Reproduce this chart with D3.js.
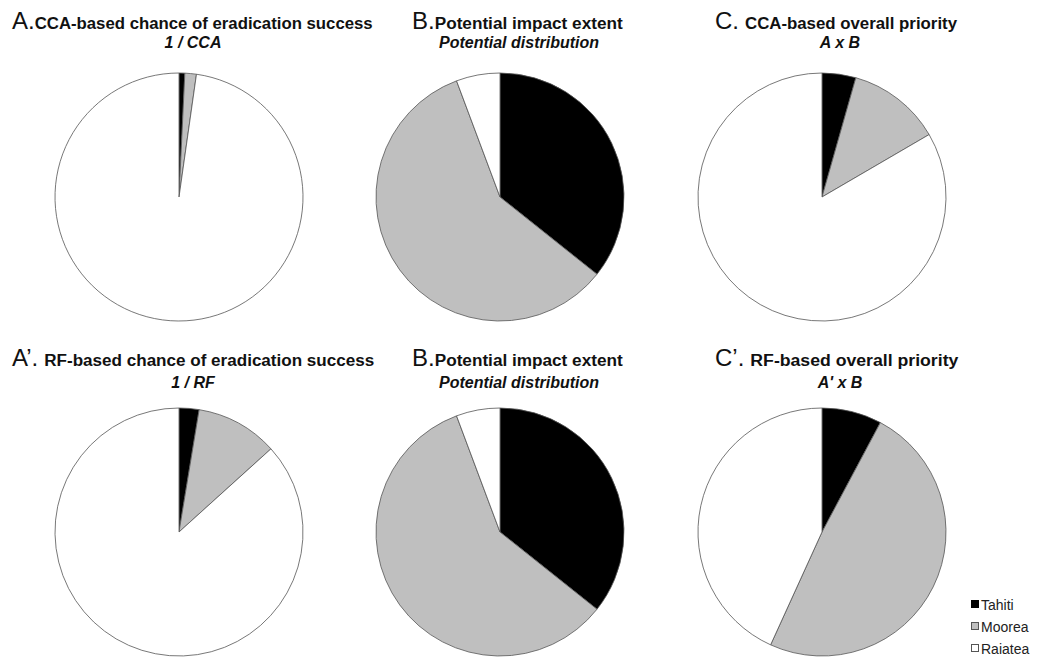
<!DOCTYPE html>
<html lang="en">
<head>
  <meta charset="UTF-8">
  <title>Eradication priority pies</title>
  <script src="https://d3js.org/d3.v7.min.js"></script>
  <style>
    body { margin: 0; background: #fff; }
    svg { font-family: "Liberation Sans", Arial, sans-serif; }
  </style>
</head>
<body>
  <svg width="1038" height="659"></svg>

  <script>
    // islands and values (percent share of each pie)
    const islands = ["Tahiti", "Moorea", "Raiatea"];
    const letters = ["A.", "B.", "C.", "A\u2019.", "B.", "C\u2019."];
    const titles = [
      "CCA-based chance of eradication success",
      "Potential impact extent",
      "CCA-based overall priority",
      "RF-based chance of eradication success",
      "Potential impact extent",
      "RF-based overall priority"
    ];
    const subtitles = ["1 / CCA", "Potential distribution", "A x B", "1 / RF", "Potential distribution", "A' x B"];
    const tahiti  = [0.75, 35.7, 4.4, 2.6, 35.7, 7.8];
    const moorea  = [1.5, 58.6, 12.2, 10.7, 58.6, 49.0];
    const raiatea = [97.75, 5.7, 83.4, 86.7, 5.7, 43.2];

    const svg = d3.select("svg");

    const color = d3.scaleOrdinal()
                    .domain(islands)
                    .range(["#000000", "#bfbfbf", "#ffffff"]);

    // layout
    const colX = [179, 500, 822];
    const rowY = [197, 532];
    const radius = 124;
    const letterX = [12, 412, 715];
    const subX = [193, 519, 840];
    const titleBase = [29, 366];
    const subBase = [48, 388];
    const textW = [338, 188, 212, 330, 188, 208];
    const gap = [0, 0, 6, 6, 0, 6];

    const pie = d3.pie().sort(null).value(d => d.value).startAngle(0);
    const arc = d3.arc().innerRadius(0).outerRadius(radius);

    letters.forEach((letter, i) => {
      const col = i % 3, row = Math.floor(i / 3);
      const slices = islands.map((name, k) => ({
        name: name,
        value: [tahiti, moorea, raiatea][k][i]
      }));

      const g = svg.append("g")
                   .attr("transform", `translate(${colX[col]},${rowY[row]})`);

      g.selectAll("path")
       .data(pie(slices))
       .join("path")
       .attr("d", arc)
       .attr("fill", d => color(d.data.name))
       .attr("stroke", "#555")
       .attr("stroke-width", 0.8);

      // title: big letter + bold text
      const t = svg.append("text")
                   .attr("x", letterX[col])
                   .attr("y", titleBase[row])
                   .attr("fill", "#111");
      t.append("tspan")
       .attr("font-size", 24)
       .text(letter);
      t.append("tspan")
       .attr("dx", gap[i])
       .attr("font-size", 16)
       .attr("font-weight", "bold")
       .attr("textLength", textW[i])
       .attr("lengthAdjust", "spacingAndGlyphs")
       .text(titles[i]);

      svg.append("text")
         .attr("x", subX[col])
         .attr("y", subBase[row])
         .attr("text-anchor", "middle")
         .attr("font-size", 16)
         .attr("font-weight", "bold")
         .attr("font-style", "italic")
         .attr("fill", "#111")
         .text(subtitles[i]);
    });

    // legend
    const legend = svg.append("g")
                      .attr("transform", "translate(971,605)");
    const item = legend.selectAll("g")
                       .data(islands)
                       .join("g")
                       .attr("transform", (d, i) => `translate(0,${i * 22})`);
    item.append("rect")
        .attr("x", 0.5)
        .attr("y", -4.5)
        .attr("width", 7)
        .attr("height", 7)
        .attr("fill", d => color(d))
        .attr("stroke", d => d === "Tahiti" ? "#000" : "#555")
        .attr("stroke-width", 1);
    item.append("text")
        .attr("x", 10)
        .attr("y", 5)
        .attr("font-size", 14)
        .attr("fill", "#222")
        .text(d => d);
  </script>
</body>
</html>
